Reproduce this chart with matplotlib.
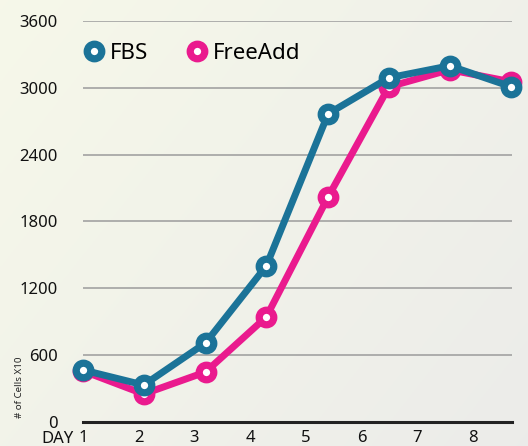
import numpy as np
import matplotlib.pyplot as plt

# measurement points (in day units on the axis) and cell counts
days = [1.0, 2.09, 3.2, 4.29, 5.4, 6.49, 7.58, 8.69]
fbs = [467, 332, 710, 1401, 2767, 3090, 3198, 3009]
freeadd = [458, 251, 449, 943, 2021, 3009, 3162, 3054]

day_ticks = [1, 2, 3, 4, 5, 6, 7, 8]
y_ticks = [0, 600, 1200, 1800, 2400, 3000, 3600]

teal = '#1b7398'
pink = '#ea1a8e'

plt.rcParams['font.family'] = ['Noto Sans', 'DejaVu Sans']

fig = plt.figure(figsize=(5.28, 4.46), dpi=100)

# soft background gradient
bg = fig.add_axes([0, 0, 1, 1], zorder=-10)
gx, gy = np.meshgrid(np.linspace(0, 1, 200), np.linspace(0, 1, 200))
c1 = np.array([0.965, 0.972, 0.915])
c2 = np.array([0.925, 0.925, 0.915])
t = np.clip(0.6 * gx + 0.4 * gy, 0, 1)[..., None]
bg.imshow(c1 * (1 - t) + c2 * t, aspect='auto', extent=[0, 1, 0, 1])
bg.axis('off')

ax = fig.add_axes([83 / 528, 24 / 446, 429 / 528, 401 / 446])
ax.set_facecolor('none')

ax.plot(days, freeadd, color=pink, lw=5, marker='o', ms=10.5, mew=5.2,
        mfc='white', mec=pink, clip_on=False, zorder=3)
ax.plot(days, fbs, color=teal, lw=5, marker='o', ms=10.5, mew=5.2,
        mfc='white', mec=teal, clip_on=False, zorder=4)

ax.set_xlim(1, 8.7)
ax.set_ylim(0, 3600)
ax.set_yticks(y_ticks)
ax.set_yticklabels([str(v) for v in y_ticks], fontsize=12, color='#111111')
ax.set_xticks(day_ticks)
ax.set_xticklabels([str(d) for d in day_ticks], fontsize=12, color='#111111')
ax.tick_params(axis='y', length=0, pad=18)
ax.tick_params(axis='x', length=0, pad=6)
ax.grid(axis='y', color='#a2a2a2', lw=1.2)
ax.set_axisbelow(True)
for s in ['left', 'right', 'top']:
    ax.spines[s].set_visible(False)
ax.spines['bottom'].set_linewidth(2.2)
ax.spines['bottom'].set_color('#222222')

fig.text(74 / 528, 1 - 439 / 446, 'DAY', fontsize=12, ha='right', va='center',
         color='#111111')
fig.text(20 / 528, 1 - 387 / 446, '# of Cells X10', fontsize=7, rotation=90,
         ha='center', va='center', color='#222222')

# legend
ax.plot([0.025], [0.925], transform=ax.transAxes, marker='o', ms=10.5, mew=5.2,
        mfc='white', mec=teal, clip_on=False, ls='none')
ax.text(0.063, 0.918, 'FBS', transform=ax.transAxes, fontsize=16, va='center')
ax.plot([0.266], [0.925], transform=ax.transAxes, marker='o', ms=10.5, mew=5.2,
        mfc='white', mec=pink, clip_on=False, ls='none')
ax.text(0.303, 0.918, 'FreeAdd', transform=ax.transAxes, fontsize=16, va='center')

fig.savefig('out.png', dpi=100)
